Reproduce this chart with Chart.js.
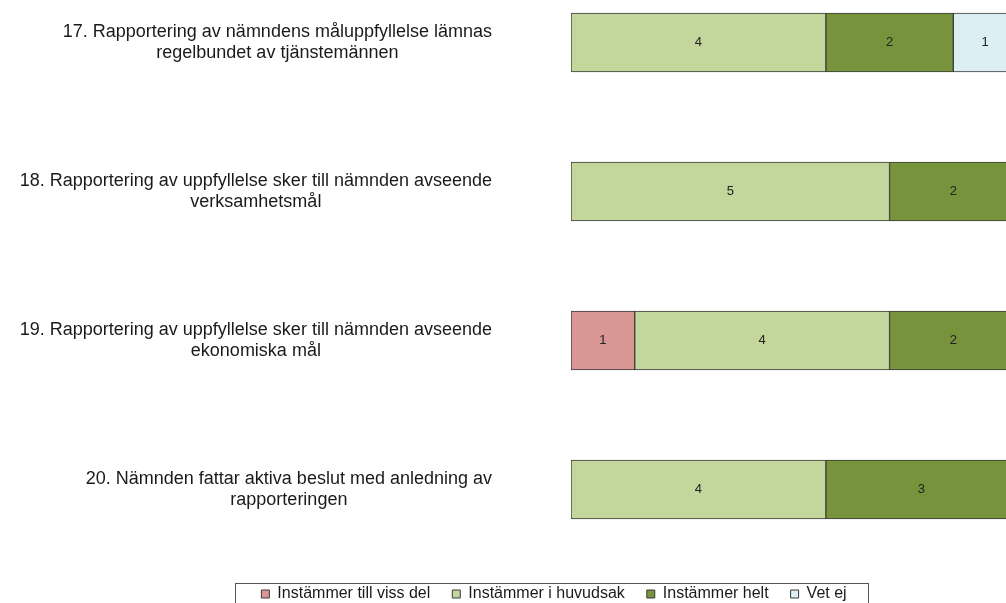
<!DOCTYPE html>
<html>
<head>
<meta charset="utf-8">
<script src="https://cdn.jsdelivr.net/npm/chart.js@4.4.0/dist/chart.umd.min.js"></script>
<style>
  html, body { margin: 0; padding: 0; background: #fff; overflow: hidden; width: 1006px; height: 603px; }
  #wrap { position: absolute; left: 0; top: -32px; width: 1108px; height: 660px; }
</style>
</head>
<body>
<div id="wrap"><canvas id="survey-chart"></canvas></div>
<script>
// questions (each one is a list of lines)
const questions = [
  ['17. Rapportering av nämndens måluppfyllelse lämnas', 'regelbundet av tjänstemännen'],
  ['18. Rapportering av uppfyllelse sker till nämnden avseende', 'verksamhetsmål'],
  ['19. Rapportering av uppfyllelse sker till nämnden avseende', 'ekonomiska mål'],
  ['20. Nämnden fattar aktiva beslut med anledning av', 'rapporteringen']
];
const vissDel = [0, 0, 1, 0];
const huvudsak = [4, 5, 4, 4];
const helt = [2, 2, 2, 3];
const vetEj = [1, 0, 0, 0];

const labelFont = '18px "Liberation Sans", Arial, sans-serif';

// the original picture is cut at the right: 7 answers end just past the edge
const xMax = 7 * (1108 - 571) / 446;

// draws the question text, lines centred inside a right aligned block
const questionLabels = {
  id: 'questionLabels',
  afterDraw(chart) {
    const ctx = chart.ctx;
    const y = chart.scales.y;
    ctx.save();
    ctx.font = labelFont;
    ctx.fillStyle = '#1a1a1a';
    ctx.textAlign = 'center';
    ctx.textBaseline = 'middle';
    chart.data.labels.forEach((lines, i) => {
      const w = Math.max(...lines.map(l => ctx.measureText(l).width));
      const cx = 492 - w / 2;
      const cy = y.getPixelForValue(i);
      lines.forEach((l, k) => {
        ctx.fillText(l, cx, cy + (k - (lines.length - 1) / 2) * 21);
      });
    });
    ctx.restore();
  }
};

// numbers in the middle of every segment
const segmentValues = {
  id: 'segmentValues',
  afterDatasetsDraw(chart) {
    const ctx = chart.ctx;
    ctx.save();
    ctx.font = '13px "Liberation Sans", Arial, sans-serif';
    ctx.fillStyle = '#222';
    ctx.textAlign = 'center';
    ctx.textBaseline = 'middle';
    chart.data.datasets.forEach((ds, d) => {
      const meta = chart.getDatasetMeta(d);
      meta.data.forEach((bar, j) => {
        if (!ds.data[j]) return;
        const p = bar.getCenterPoint();
        ctx.fillText(ds.data[j], p.x, p.y);
      });
    });
    ctx.restore();
  }
};

// frame around the legend, fixed legend height
const legendFrame = {
  id: 'legendFrame',
  beforeInit(chart) {
    const fit = chart.legend.fit;
    chart.legend.fit = function () {
      fit.bind(chart.legend)();
      this.height = 64;
    };
  },
  afterDraw(chart) {
    const boxes = chart.legend.legendHitBoxes;
    if (!boxes || !boxes.length) return;
    const left = Math.min(...boxes.map(b => b.left)) - 26;
    const right = Math.max(...boxes.map(b => b.left + b.width)) + 22;
    const top = boxes[0].top - 3;
    const ctx = chart.ctx;
    ctx.save();
    ctx.strokeStyle = '#555';
    ctx.lineWidth = 1;
    ctx.strokeRect(Math.round(left) + 0.5, Math.round(top) + 0.5, Math.round(right - left), 60);
    ctx.restore();
  }
};

const border = '#3b3b3b';
const barStyle = { borderColor: border, borderWidth: 1, borderSkipped: false };
new Chart(document.getElementById('survey-chart'), {
  type: 'bar',
  data: {
    labels: questions,
    datasets: [
      { label: 'Instämmer till viss del', data: vissDel, backgroundColor: '#d99694', ...barStyle },
      { label: 'Instämmer i huvudsak', data: huvudsak, backgroundColor: '#c3d69b', ...barStyle },
      { label: 'Instämmer helt', data: helt, backgroundColor: '#77933c', ...barStyle },
      { label: 'Vet ej', data: vetEj, backgroundColor: '#dbeef4', ...barStyle }
    ]
  },
  options: {
    indexAxis: 'y',
    responsive: true,
    maintainAspectRatio: false,
    animation: false,
    barThickness: 59,
    layout: { padding: 0 },
    scales: {
      x: { stacked: true, min: 0, max: xMax, display: false },
      y: {
        stacked: true,
        ticks: { display: false },
        grid: { display: false },
        border: { display: false },
        afterFit(scale) { scale.width = 571; }
      }
    },
    plugins: {
      tooltip: { enabled: false },
      legend: {
        position: 'bottom',
        labels: {
          boxWidth: 8,
          boxHeight: 8,
          padding: 22,
          color: '#1a1a1a',
          font: { family: '"Liberation Sans", Arial, sans-serif', size: 16 }
        }
      }
    }
  },
  plugins: [questionLabels, segmentValues, legendFrame]
});
</script>
</body>
</html>
